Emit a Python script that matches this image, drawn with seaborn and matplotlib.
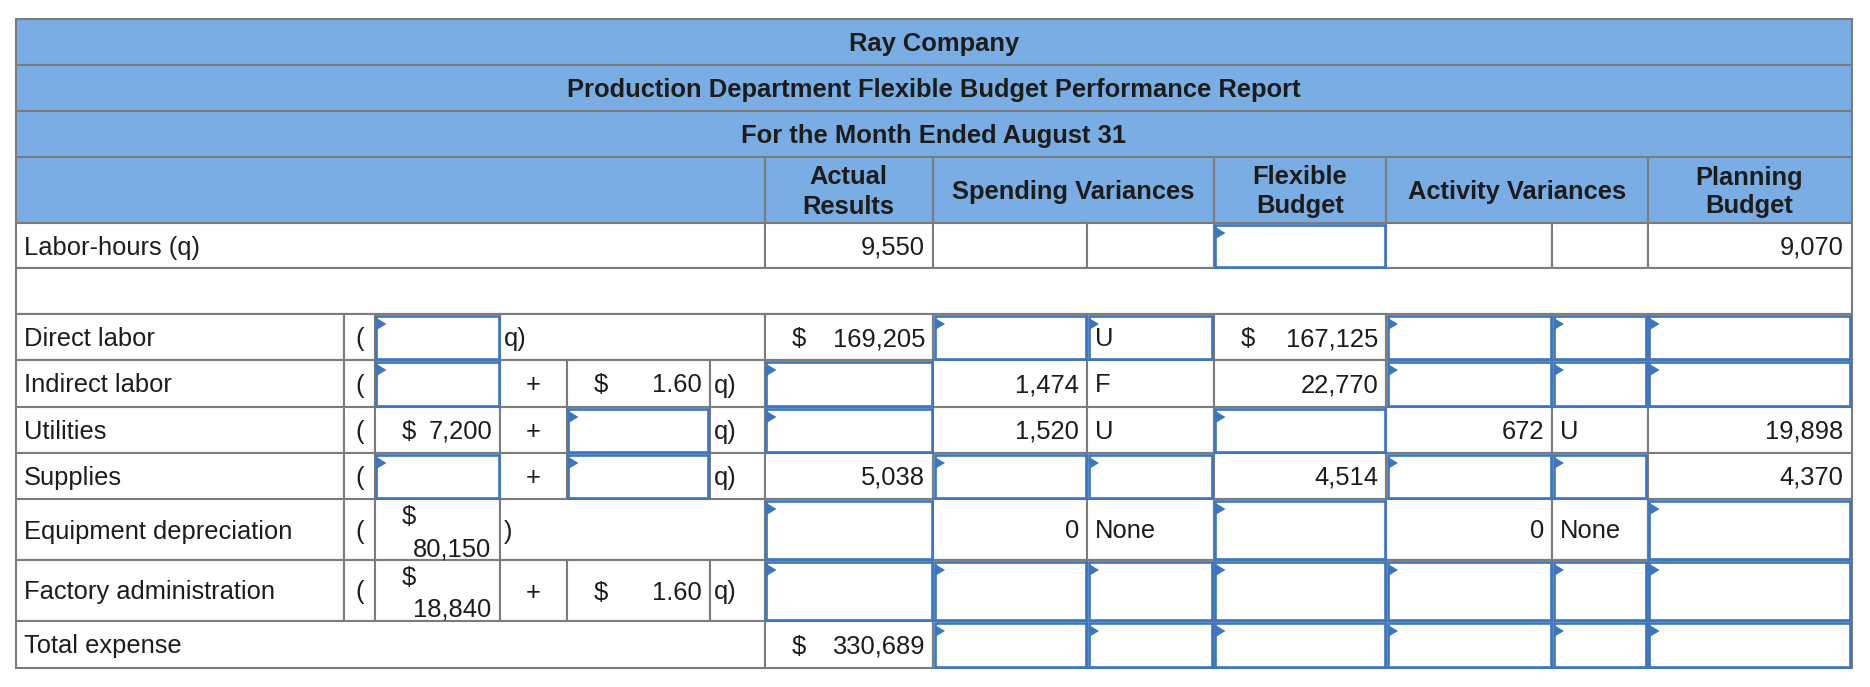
import matplotlib.pyplot as plt
import seaborn as sns
from matplotlib.patches import Rectangle, Polygon

# ---- table content ----
title_lines = ["Ray Company",
               "Production Department Flexible Budget Performance Report",
               "For the Month Ended August 31"]
col_headers = ["Actual\nResults", "Spending Variances", "Flexible\nBudget",
               "Activity Variances", "Planning\nBudget"]

hours_label = "Labor-hours (q)"
hours_text = ["9,550", "", "", "", "", "", "9,070"]
hours_box = [0, 0, 0, 1, 0, 0, 0]

row_labels = ["Direct labor", "Indirect labor", "Utilities", "Supplies",
              "Equipment depreciation", "Factory administration"]
# cost formula:  ( first  +  rate  q)
formula_first = ["", "", "$ 7,200", "", "$ 80,150", "$ 18,840"]
formula_first_box = [1, 1, 0, 1, 0, 0]
formula_first_wrap = [0, 0, 0, 0, 1, 1]
formula_rate = [None, "$ 1.60", "", "", None, "$ 1.60"]
formula_rate_box = [0, 0, 1, 1, 0, 0]
formula_close = ["q)", "q)", "q)", "q)", ")", "q)"]

# actual, spending var, flag, flexible, activity var, flag, planning
cost_text = [
    ["$ 169,205", "", "U", "$ 167,125", "", "", ""],
    ["", "1,474", "F", "22,770", "", "", ""],
    ["", "1,520", "U", "", "672", "U", "19,898"],
    ["5,038", "", "", "4,514", "", "", "4,370"],
    ["", "0", "None", "", "0", "None", ""],
    ["", "", "", "", "", "", ""],
]
cost_box = [
    [0, 1, 1, 0, 1, 1, 1],
    [1, 0, 0, 0, 1, 1, 1],
    [1, 0, 0, 1, 0, 0, 0],
    [0, 1, 1, 0, 1, 1, 0],
    [1, 0, 0, 1, 0, 0, 1],
    [1, 1, 1, 1, 1, 1, 1],
]
total_label = "Total expense"
total_text = ["$ 330,689", "", "", "", "", "", ""]
total_box = [0, 1, 1, 1, 1, 1, 1]

# ---- layout (pixels) ----
X = [16, 344, 374.5, 500, 566.5, 709.6, 764.5, 933, 1087, 1213.5,
     1386, 1552, 1647.6, 1851.5]
Y = [19, 65, 111, 157, 223, 268, 314, 360, 407, 453, 499, 560, 621, 668]
value_cols = [6, 7, 8, 9, 10, 11, 12]
value_align = ["r", "r", "l", "r", "r", "l", "r"]

HEAD = "#79ade3"
GRID = "#7c7c7c"
BLUE = "#3b76be"
INK = "#1c1c1c"
FS = 18.4

sns.set_style("white")
plt.rcParams["font.family"] = ["Liberation Sans", "DejaVu Sans"]

fig = plt.figure(figsize=(18.7, 6.87), dpi=100)
ax = fig.add_axes([0, 0, 1, 1])
ax.set_xlim(0, 1870)
ax.set_ylim(687, 0)
ax.axis("off")


def cell(c0, c1, r, fill="white"):
    ax.add_patch(Rectangle((X[c0], Y[r]), X[c1] - X[c0], Y[r + 1] - Y[r],
                           facecolor=fill, edgecolor=GRID, lw=1.5, zorder=1))


def box(c0, c1, r):
    x0, x1, y0, y1 = X[c0], X[c1], Y[r], Y[r + 1]
    ax.add_patch(Rectangle((x0 + 1.5, y0 + 1.5), x1 - x0 - 3, y1 - y0 - 3,
                           facecolor="white", edgecolor=BLUE, lw=1.9, zorder=2))
    ax.add_patch(Polygon([(x0 + 2, y0 + 4), (x0 + 12, y0 + 10),
                          (x0 + 2, y0 + 16)], closed=True,
                         color=BLUE, lw=0, zorder=3))


def put(text, c0, c1, r, align="r", bold=False, wrap=False):
    if not text:
        return
    x0, x1, y0, y1 = X[c0], X[c1], Y[r], Y[r + 1]
    yb = (y0 + y1) / 2 + 9
    kw = dict(fontsize=FS, color=INK, va="baseline", zorder=4,
              fontweight="bold" if bold else "normal")
    if text.startswith("$ "):
        num = text[2:]
        if wrap:   # narrow cell: "$" and number on two lines
            ax.text(x0 + 27, y0 + 25, "$", ha="left", **kw)
            ax.text(x1 - 9, y1 - 4, num, ha="right", **kw)
        else:
            ax.text(x0 + 27, yb, "$", ha="left", **kw)
            ax.text(x1 - 8, yb, num, ha="right", **kw)
    elif align == "r":
        ax.text(x1 - 8, yb, text, ha="right", **kw)
    elif align == "l":
        ax.text(x0 + 8, yb, text, ha="left", **kw)
    elif align == "q":
        ax.text(x0 + 4, yb, text, ha="left", **kw)
    else:
        ax.text((x0 + x1) / 2, yb, text, ha="center", **kw)


# title rows
for r, t in enumerate(title_lines):
    cell(0, 13, r, HEAD)
    put(t, 0, 13, r, "c", bold=True)

# column header row
cell(0, 6, 3, HEAD)
hdr_spans = [(6, 7), (7, 9), (9, 10), (10, 12), (12, 13)]
for (c0, c1), h in zip(hdr_spans, col_headers):
    cell(c0, c1, 3, HEAD)
    lines = h.split("\n")
    yc = (Y[3] + Y[4]) / 2
    for i, ln in enumerate(lines):
        off = (i - (len(lines) - 1) / 2) * 29
        ax.text((X[c0] + X[c1]) / 2, yc + off + 9, ln, ha="center",
                va="baseline", fontsize=FS, fontweight="bold", color=INK,
                zorder=4)

# labor-hours row
cell(0, 6, 4)
put(hours_label, 0, 6, 4, "l")
for k, c in enumerate(value_cols):
    cell(c, c + 1, 4)
    if hours_box[k]:
        box(c, c + 1, 4)
    put(hours_text[k], c, c + 1, 4, value_align[k])

# blank spacer row
cell(0, 13, 5)

# cost rows
for i, lab in enumerate(row_labels):
    r = 6 + i
    cell(0, 1, r)
    put(lab, 0, 1, r, "l")
    cell(1, 2, r)
    put("(", 1, 2, r, "c")
    cell(2, 3, r)
    if formula_first_box[i]:
        box(2, 3, r)
    put(formula_first[i], 2, 3, r, "r", wrap=bool(formula_first_wrap[i]))
    if formula_rate[i] is None:
        cell(3, 6, r)
        put(formula_close[i], 3, 6, r, "q")
    else:
        cell(3, 4, r)
        put("+", 3, 4, r, "c")
        cell(4, 5, r)
        if formula_rate_box[i]:
            box(4, 5, r)
        put(formula_rate[i], 4, 5, r, "r")
        cell(5, 6, r)
        put(formula_close[i], 5, 6, r, "q")
    for k, c in enumerate(value_cols):
        cell(c, c + 1, r)
        if cost_box[i][k]:
            box(c, c + 1, r)
        put(cost_text[i][k], c, c + 1, r, value_align[k])

# total row
r = 12
cell(0, 6, r)
put(total_label, 0, 6, r, "l")
for k, c in enumerate(value_cols):
    cell(c, c + 1, r)
    if total_box[k]:
        box(c, c + 1, r)
    put(total_text[k], c, c + 1, r, value_align[k])

fig.savefig("out.png", dpi=100, facecolor="white")
